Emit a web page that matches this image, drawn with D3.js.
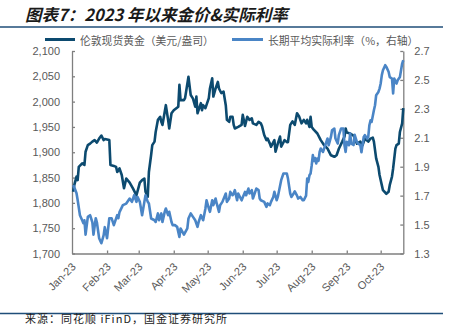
<!DOCTYPE html>
<html><head><meta charset="utf-8">
<script src="https://cdn.jsdelivr.net/npm/d3@7"></script>
<style>
html,body{margin:0;padding:0;background:#fff;}
svg{display:block;}
</style></head>
<body>
<svg id="chart" width="455" height="328"></svg>
<script>
const titleText = "图表7：2023 年以来金价&实际利率";
const sourceText = "来源：同花顺 iFinD，国金证券研究所";
const seriesNames = ["伦敦现货黄金（美元/盎司）", "长期平均实际利率（%，右轴）"];
const leftTicks = [1700, 1750, 1800, 1850, 1900, 1950, 2000, 2050, 2100];
const rightTicks = [1.3, 1.5, 1.7, 1.9, 2.1, 2.3, 2.5, 2.7];
const xDomain = ["2023-01-01", "2023-10-21"];

const goldDates = ["01-02","01-03","01-05","01-06","01-07","01-10","01-12","01-13","01-15","01-17","01-19","01-21","01-23","01-25","01-27","01-29","01-30","02-03","02-04","02-07","02-09","02-10","02-12","02-14","02-16","02-18","02-21","02-24","02-27","03-02","03-04","03-06","03-07","03-09","03-10","03-12","03-13","03-15","03-16","03-18","03-20","03-21","03-22","03-25","03-27","03-28","03-30","04-01","04-05","04-06","04-07","04-10","04-11","04-14","04-16","04-18","04-20","04-21","04-22","04-25","04-26","04-27","04-29","05-02","05-03","05-05","05-06","05-08","05-10","05-11","05-13","05-15","05-17","05-18","05-20","05-21","05-23","05-24","05-25","05-28","05-31","06-01","06-03","06-05","06-07","06-09","06-10","06-13","06-15","06-17","06-18","06-20","06-22","06-23","06-25","06-26","06-29","06-30","07-02","07-04","07-05","07-08","07-10","07-11","07-13","07-15","07-17","07-19","07-21","07-23","07-25","07-27","07-28","07-30","07-31","08-01","08-03","08-06","08-09","08-12","08-15","08-18","08-21","08-23","08-25","08-28","08-30","08-31","09-01","09-04","09-07","09-10","09-13","09-15","09-17","09-20","09-22","09-24","09-25","09-27","09-29","09-30","10-02","10-03","10-06","10-08","10-09","10-11","10-12","10-14","10-15","10-17","10-18","10-20","10-21"];
const goldValues = [1822,1835,1852,1845,1871,1878,1875,1901,1914,1917,1921,1924,1919,1927,1933,1924,1926,1924,1875,1873,1871,1861,1868,1855,1829,1848,1840,1828,1815,1840,1845,1848,1822,1812,1861,1895,1914,1921,1940,1964,1970,1960,1954,1993,1964,1947,1977,1983,1990,2033,2003,2003,2007,2049,2013,2006,1990,2010,1977,1997,1983,1993,1987,2007,2026,2046,2010,2026,2039,2026,2017,2020,1993,1964,1960,1970,1970,1954,1947,1950,1954,1974,1952,1970,1964,1967,1957,1954,1960,1957,1952,1934,1924,1927,1917,1911,1924,1901,1917,1931,1911,1924,1920,1920,1954,1961,1954,1977,1970,1957,1964,1957,1964,1950,1970,1950,1944,1937,1924,1914,1907,1894,1891,1894,1907,1921,1931,1947,1939,1937,1933,1917,1921,1914,1927,1921,1927,1929,1921,1888,1871,1855,1835,1825,1818,1822,1835,1852,1868,1907,1914,1917,1940,1957,1987];

const rateDates = ["01-02","01-03","01-05","01-06","01-08","01-10","01-11","01-12","01-13","01-15","01-17","01-19","01-20","01-22","01-23","01-25","01-27","01-29","01-30","02-01","02-03","02-05","02-07","02-10","02-11","02-12","02-15","02-18","02-21","02-23","02-25","02-27","02-28","03-02","03-04","03-06","03-07","03-09","03-10","03-12","03-15","03-16","03-18","03-19","03-21","03-22","03-24","03-25","03-27","03-28","03-30","03-31","04-02","04-04","04-06","04-07","04-10","04-13","04-14","04-16","04-18","04-20","04-22","04-23","04-25","04-27","04-29","04-30","05-02","05-03","05-05","05-06","05-08","05-09","05-11","05-12","05-14","05-17","05-18","05-20","05-21","05-23","05-24","05-25","05-27","05-28","05-31","06-03","06-04","06-06","06-07","06-09","06-10","06-13","06-15","06-16","06-17","06-20","06-22","06-23","06-25","06-26","06-28","06-29","07-01","07-02","07-05","07-07","07-10","07-11","07-13","07-14","07-16","07-17","07-19","07-20","07-22","07-24","07-25","07-27","07-28","07-29","07-30","07-31","08-01","08-02","08-03","08-04","08-05","08-06","08-07","08-08","08-09","08-11","08-13","08-15","08-16","08-18","08-19","08-21","08-22","08-24","08-25","08-27","08-29","08-30","08-31","09-01","09-03","09-04","09-05","09-07","09-08","09-10","09-11","09-13","09-14","09-16","09-17","09-19","09-20","09-21","09-22","09-23","09-25","09-26","09-27","09-29","09-30","10-01","10-02","10-03","10-05","10-06","10-08","10-09","10-11","10-12","10-13","10-15","10-16","10-18","10-19","10-20","10-21"];
const rateValues = [1.772,1.758,1.717,1.67,1.565,1.53,1.51,1.53,1.43,1.553,1.565,1.516,1.43,1.544,1.516,1.406,1.371,1.427,1.482,1.406,1.544,1.544,1.496,1.565,1.544,1.586,1.634,1.645,1.68,1.657,1.703,1.657,1.691,1.657,1.565,1.657,1.703,1.657,1.646,1.542,1.53,1.518,1.577,1.53,1.577,1.518,1.588,1.611,1.565,1.588,1.518,1.496,1.496,1.484,1.415,1.473,1.43,1.473,1.542,1.577,1.553,1.53,1.484,1.518,1.565,1.53,1.611,1.668,1.611,1.588,1.668,1.634,1.68,1.646,1.588,1.634,1.657,1.715,1.657,1.68,1.726,1.703,1.715,1.738,1.668,1.715,1.668,1.726,1.703,1.749,1.715,1.738,1.68,1.749,1.738,1.68,1.668,1.657,1.622,1.646,1.634,1.657,1.691,1.726,1.668,1.691,1.807,1.853,1.853,1.818,1.715,1.691,1.715,1.73,1.70,1.68,1.691,1.668,1.668,1.70,1.818,1.795,1.841,1.853,1.91,1.98,1.94,1.96,1.922,1.957,1.94,2.002,2.026,2.002,2.049,2.095,2.049,2.106,2.152,2.164,2.095,2.06,2.118,2.164,2.164,2.049,2.002,2.072,2.049,2.13,2.06,2.05,2.12,2.07,2.06,2.05,2.00,2.106,2.118,2.095,2.106,2.187,2.22,2.21,2.29,2.325,2.394,2.417,2.44,2.475,2.533,2.567,2.602,2.59,2.556,2.52,2.51,2.406,2.51,2.475,2.498,2.52,2.567,2.613,2.636];

const colors = {gold: "#0c4a6f", rate: "#4a85c6", axis: "#7f7f7f", label: "#595959", rule: "#1f4e79"};

const parse = d3.timeParse("%Y-%m-%d");
const goldData = goldDates.map((d, i) => ({date: parse("2023-" + d), value: goldValues[i]}));
const rateData = rateDates.map((d, i) => ({date: parse("2023-" + d), value: rateValues[i]}));

const svg = d3.select("#chart");
const plotLeft = 72, plotRight = 403.3, plotTop = 51, plotBottom = 253.5;

const x = d3.scaleTime().domain(xDomain.map(parse)).range([plotLeft, plotRight]);
const yL = d3.scaleLinear().domain([1700, 2100]).range([plotBottom, plotTop]);
const yR = d3.scaleLinear().domain([1.3, 2.7]).range([plotBottom, plotTop]);

const font = "'Liberation Sans', Arial, sans-serif";
const cjk = "'Noto Sans CJK SC', 'Liberation Sans', sans-serif";

// title
svg.append("text").attr("x", 25).attr("y", 21)
  .attr("font-family", cjk).attr("font-size", 16.5).attr("font-weight", "bold")
  .attr("font-style", "italic").attr("fill", "#1a1a1a").text(titleText);
svg.append("line").attr("x1", 0).attr("x2", 443).attr("y1", 27).attr("y2", 27)
  .attr("stroke", colors.rule).attr("stroke-width", 1.5);
svg.append("line").attr("x1", 0).attr("x2", 443).attr("y1", 313.5).attr("y2", 313.5)
  .attr("stroke", colors.rule).attr("stroke-width", 1.5);
svg.append("text").attr("x", 25).attr("y", 323)
  .attr("font-family", "'Noto Sans CJK SC', sans-serif").attr("font-size", 11).attr("fill", "#222")
  .attr("textLength", 202).attr("lengthAdjust", "spacing")
  .text(sourceText);

// axes
const gL = svg.append("g").attr("transform", `translate(${plotLeft},0)`)
  .call(d3.axisLeft(yL).tickValues(leftTicks).tickSizeInner(-3).tickSizeOuter(0).tickPadding(12)
    .tickFormat(d3.format(",")));
const gR = svg.append("g").attr("transform", `translate(${plotRight},0)`)
  .call(d3.axisRight(yR).tickValues(rightTicks).tickSizeInner(-3).tickSizeOuter(0).tickPadding(11)
    .tickFormat(d3.format(".1f")));
const gB = svg.append("g").attr("transform", `translate(0,${plotBottom})`)
  .call(d3.axisBottom(x).ticks(d3.timeMonth.every(1)).tickSizeInner(-3).tickSizeOuter(0)
    .tickFormat(d3.timeFormat("%b-%y")));
[gL, gR, gB].forEach(g => {
  g.select(".domain").attr("stroke", colors.axis).attr("stroke-width", 1.3);
  g.selectAll(".tick line").attr("stroke", colors.axis).attr("stroke-width", 1.3);
  g.selectAll("text").attr("fill", colors.label).attr("font-family", font).attr("font-size", 11);
});
gB.selectAll(".tick line").filter((d, i) => i === 0).remove();
gB.selectAll(".tick text")
  .attr("text-anchor", "end").attr("dy", null).attr("y", 0)
  .attr("transform", "translate(4,14) rotate(-45)");

// lines
const lineL = d3.line().x(d => x(d.date)).y(d => yL(d.value));
const lineR = d3.line().x(d => x(d.date)).y(d => yR(d.value));
svg.append("path").datum(goldData).attr("d", lineL).attr("fill", "none")
  .attr("stroke", colors.gold).attr("stroke-width", 2.6).attr("stroke-linejoin", "round");
svg.append("path").datum(rateData).attr("d", lineR).attr("fill", "none")
  .attr("stroke", colors.rate).attr("stroke-width", 2.6).attr("stroke-linejoin", "round");

// legend
const legendItems = [
  {x1: 45, x2: 75, tx: 80, color: colors.gold, name: seriesNames[0]},
  {x1: 232, x2: 263, tx: 268, color: colors.rate, name: seriesNames[1]}
];
legendItems.forEach(it => {
  svg.append("line").attr("x1", it.x1).attr("x2", it.x2).attr("y1", 39.5).attr("y2", 39.5)
    .attr("stroke", it.color).attr("stroke-width", 3);
  svg.append("text").attr("x", it.tx).attr("y", 44.5)
    .attr("font-family", cjk).attr("font-size", 10.8).attr("fill", colors.label).text(it.name);
});
</script>
</body></html>
